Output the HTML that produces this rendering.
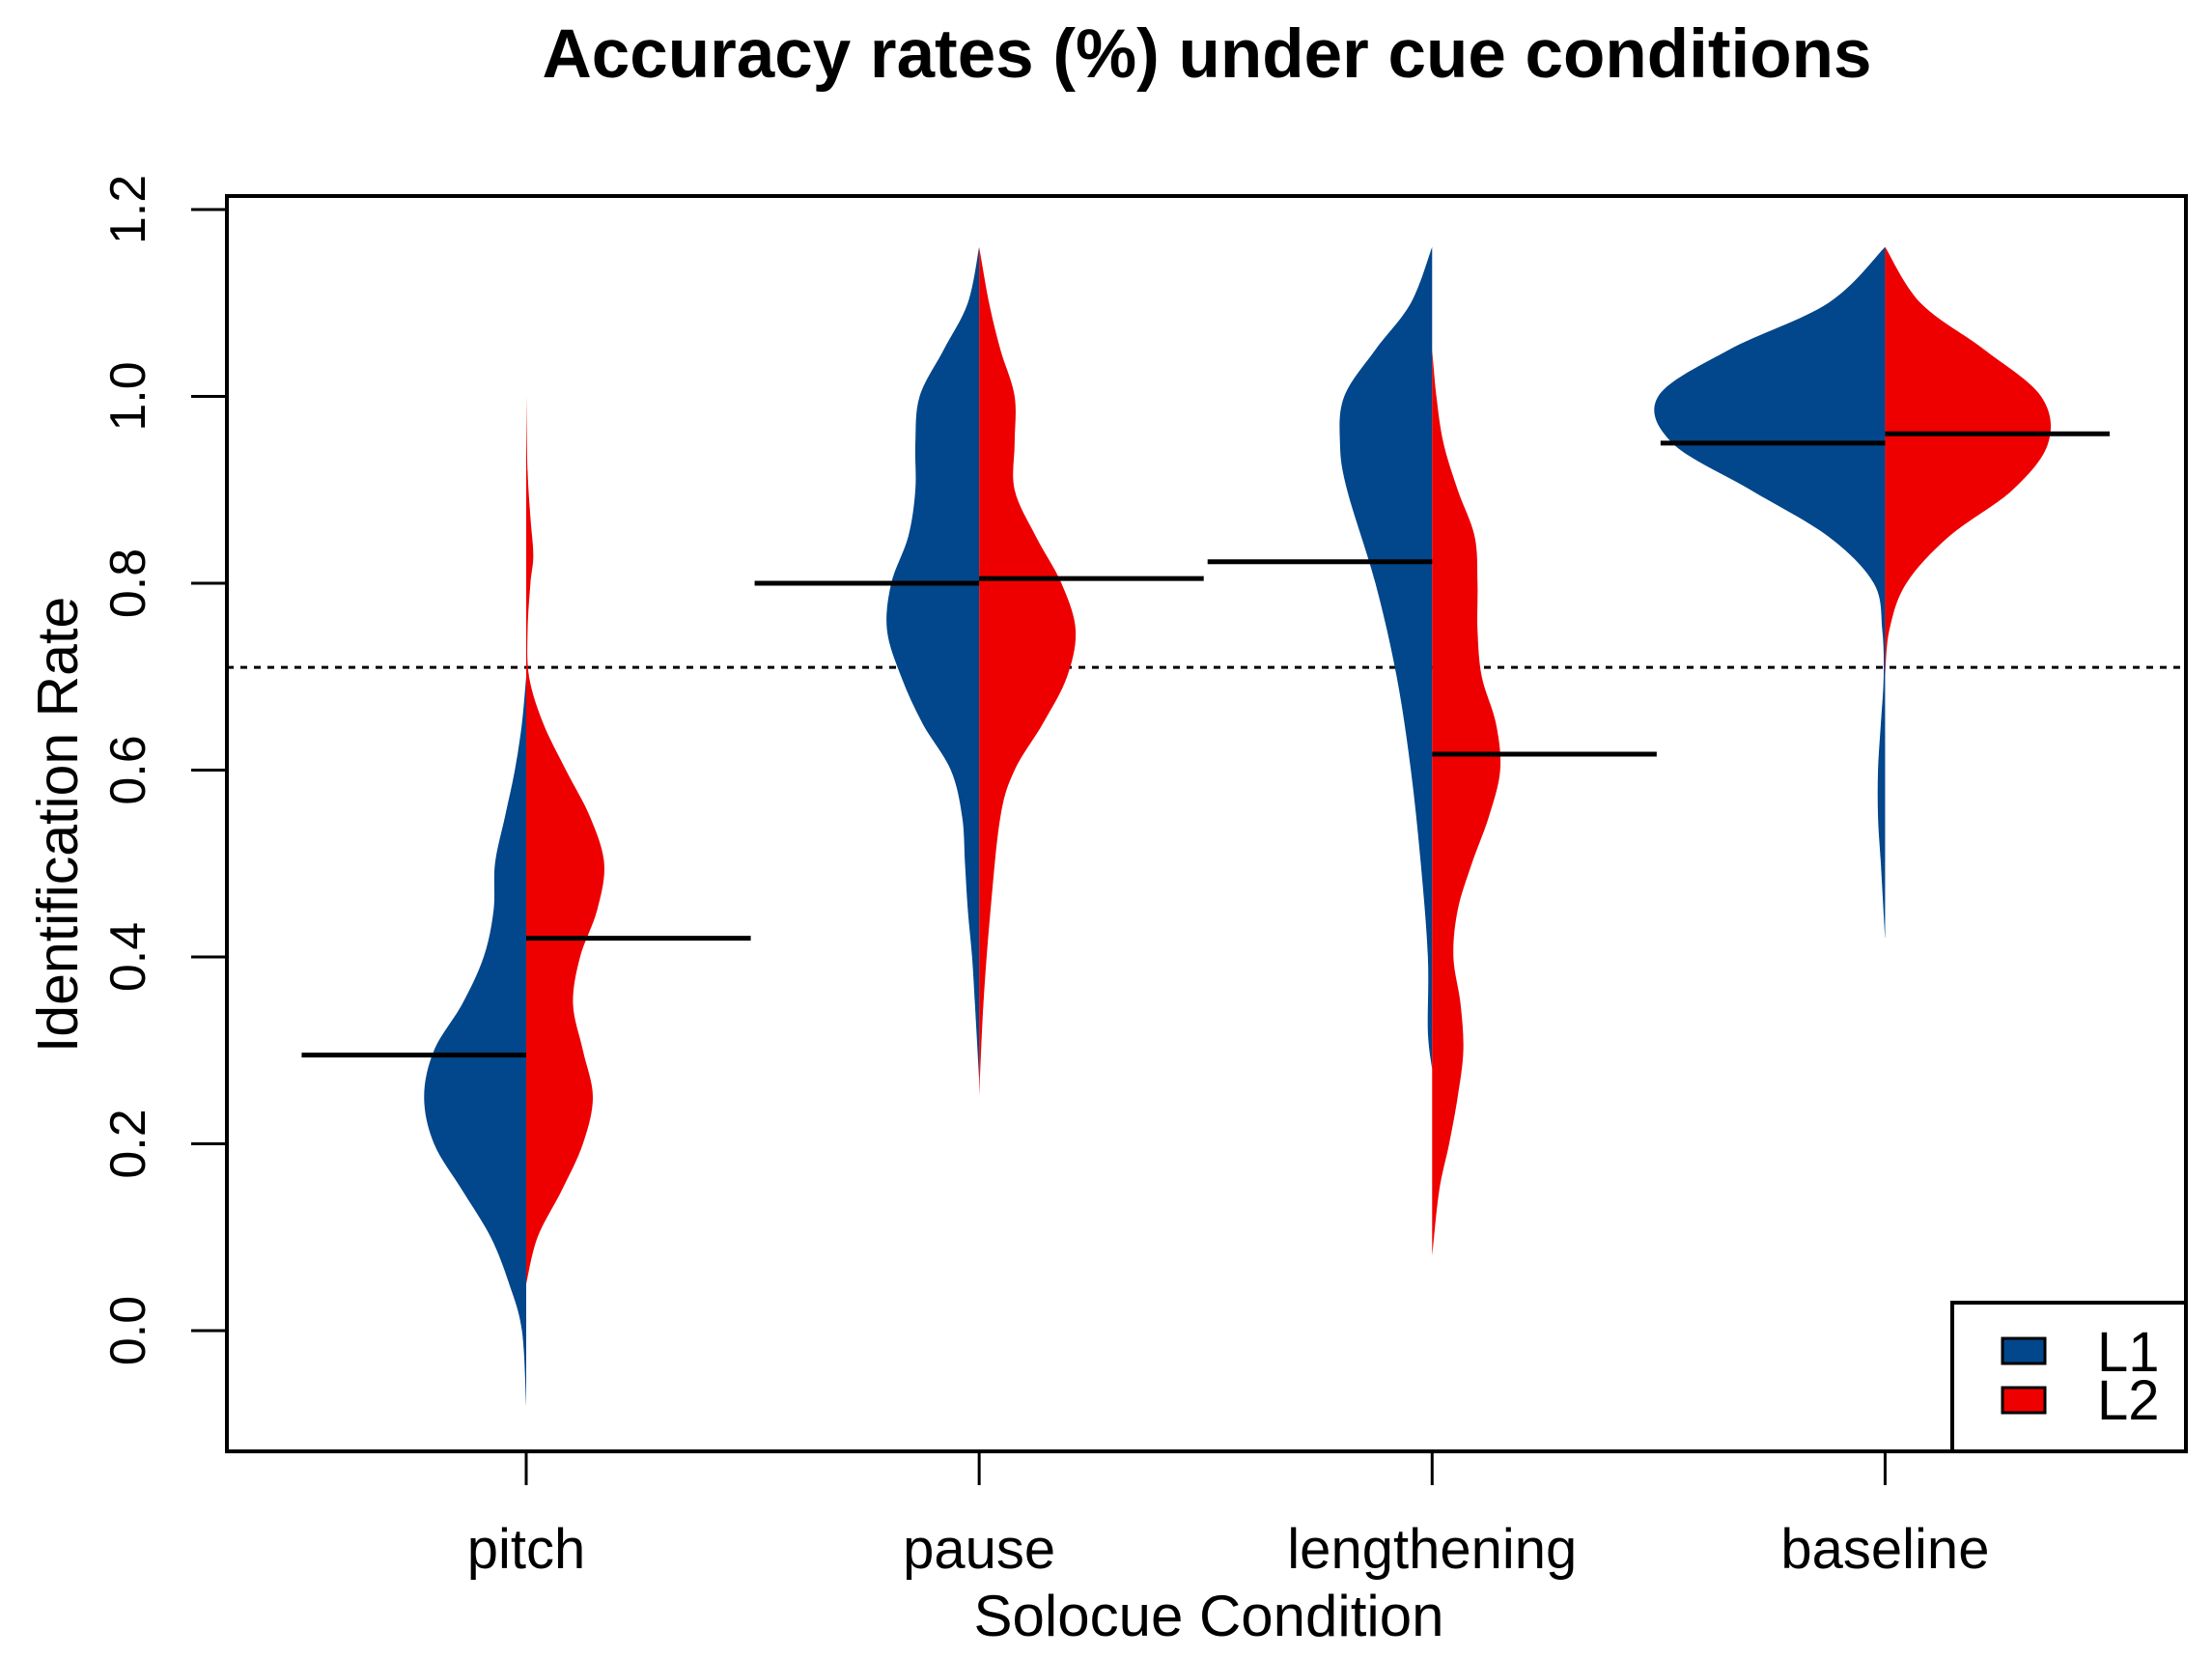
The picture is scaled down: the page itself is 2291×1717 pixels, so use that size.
<!DOCTYPE html>
<html><head><meta charset="utf-8"><style>
html,body{margin:0;padding:0;background:#fff;}
svg{display:block;font-family:"Liberation Sans",sans-serif;}
</style></head><body>
<svg id="chart" width="2291" height="1717" viewBox="0 0 2291 1717">
<text x="1250" y="80" text-anchor="middle" font-size="71" font-weight="bold">Accuracy rates (%) under cue conditions</text>
<g id="marks"></g>
<rect x="235" y="203" width="2029" height="1300" fill="none" stroke="#000" stroke-width="4"/>
<g>
<rect x="2022" y="1349" width="242" height="154" fill="#fff" stroke="#000" stroke-width="4"/>
<rect x="2074" y="1386" width="44" height="26" fill="#02468b" stroke="#000" stroke-width="3"/>
<rect x="2074" y="1437" width="44" height="26" fill="#ee0000" stroke="#000" stroke-width="3"/>
<text x="2172" y="1420" font-size="58">L1</text>
<text x="2172" y="1470" font-size="58">L2</text>
</g>
<text x="1252" y="1694" text-anchor="middle" font-size="60">Solocue Condition</text>
<text transform="translate(80,854) rotate(-90)" text-anchor="middle" font-size="59">Identification Rate</text>
</svg>
<script>
const categories = ["pitch","pause","lengthening","baseline"];
const yTicks = [0.0,0.2,0.4,0.6,0.8,1.0,1.2];
const yTickLabels = ["0.0","0.2","0.4","0.6","0.8","1.0","1.2"];
const chanceLevel = 0.71;
const meansL1 = [0.295,0.800,0.823,0.950];
const meansL2 = [0.420,0.805,0.617,0.960];
// density profiles: [y, density]
const densL1_pitch = [[-0.08,0],[0,3],[0.05,12],[0.1,25],[0.15,45],[0.2,65],[0.25,72],[0.3,65],[0.35,45],[0.4,30],[0.45,23],[0.5,22],[0.55,15],[0.6,8],[0.65,3],[0.7,0]];
const densL2_pitch = [[0.05,0],[0.1,8],[0.15,25],[0.2,40],[0.25,47],[0.3,40],[0.35,33],[0.4,38],[0.45,50],[0.5,55],[0.55,45],[0.6,28],[0.65,12],[0.7,2],[0.75,1],[0.8,3],[0.83,5],[0.87,3],[0.92,1],[1.0,0]];
const densL1_pause = [[0.27,0],[0.35,3],[0.4,5],[0.45,8],[0.5,10],[0.55,12],[0.6,20],[0.65,40],[0.7,55],[0.75,65],[0.8,62],[0.85,50],[0.9,45],[0.95,45],[1.0,42],[1.05,25],[1.1,8],[1.16,0]];
const densL2_pause = [[0.25,0],[0.35,3],[0.45,8],[0.55,15],[0.6,25],[0.65,45],[0.7,62],[0.75,68],[0.8,58],[0.85,40],[0.9,25],[0.95,25],[1.0,25],[1.05,15],[1.1,7],[1.16,0]];
const densL1_length = [[0.28,0],[0.32,3],[0.4,3],[0.5,8],[0.6,15],[0.7,25],[0.8,40],[0.9,60],[0.95,65],[1.0,62],[1.05,40],[1.1,15],[1.16,0]];
const densL2_length = [[0.08,0],[0.15,5],[0.2,12],[0.25,18],[0.3,22],[0.35,20],[0.4,15],[0.45,18],[0.5,28],[0.55,40],[0.6,48],[0.65,45],[0.7,35],[0.75,32],[0.8,32],[0.85,30],[0.9,18],[0.95,8],[1.0,3],[1.05,0]];
const densL1_base = [[0.42,0],[0.5,3],[0.55,5],[0.6,5],[0.65,3],[0.7,1],[0.75,2],[0.8,8],[0.85,40],[0.9,95],[0.95,150],[1.0,160],[1.05,110],[1.1,40],[1.16,0]];
const densL2_base = [[0.7,0],[0.75,3],[0.8,15],[0.85,45],[0.9,90],[0.95,115],[1.0,110],[1.05,70],[1.1,25],[1.16,0]];
const densL1 = [densL1_pitch,densL1_pause,densL1_length,densL1_base];
const densL2 = [densL2_pitch,densL2_pause,densL2_length,densL2_base];

const NS="http://www.w3.org/2000/svg";
const svg=document.getElementById('chart');
const marks=document.getElementById('marks');
const X0=545, DX=471.5*0.995, Y0=1378, YU=(1378-217)/1.2, DSCALE=1.4686;
const xs=i=>X0+i*DX;
const ys=v=>Y0-v*YU;
function mk(tag,attrs,parent){const e=document.createElementNS(NS,tag);for(const k in attrs)e.setAttribute(k,attrs[k]);(parent||marks).appendChild(e);return e;}
function smoothPath(pts){
  let d="M"+pts[0][0]+","+pts[0][1];
  for(let i=0;i<pts.length-1;i++){
    const p0=pts[Math.max(i-1,0)],p1=pts[i],p2=pts[i+1],p3=pts[Math.min(i+2,pts.length-1)];
    const c1=[p1[0]+(p2[0]-p0[0])/6,p1[1]+(p2[1]-p0[1])/6];
    const c2=[p2[0]-(p3[0]-p1[0])/6,p2[1]-(p3[1]-p1[1])/6];
    d+=` C${c1[0]},${c1[1]} ${c2[0]},${c2[1]} ${p2[0]},${p2[1]}`;
  }
  return d;
}
function halfViolin(i,dens,side,color,name){
  const cx=xs(i);
  const pts=dens.map(p=>[cx+side*p[1]*DSCALE,ys(p[0])]);
  const d=smoothPath(pts)+` L${cx},${ys(dens[dens.length-1][0])} L${cx},${ys(dens[0][0])} Z`;
  const el=mk('path',{d:d,fill:color});
  
  
}
const cl=mk('line',{x1:235,x2:2264,y1:ys(chanceLevel),y2:ys(chanceLevel),stroke:'#000','stroke-width':3,'stroke-dasharray':'7,7'});


categories.forEach((c,i)=>{
  halfViolin(i,densL1[i],-1,'#02468b','violin-l1-'+c);
  halfViolin(i,densL2[i],1,'#ee0000','violin-l2-'+c);
});
categories.forEach((c,i)=>{
  const m1=mk('line',{x1:xs(i)-DX/2+2,x2:xs(i),y1:ys(meansL1[i]),y2:ys(meansL1[i]),stroke:'#000','stroke-width':5});
  
  
  const m2=mk('line',{x1:xs(i),x2:xs(i)+DX/2-2,y1:ys(meansL2[i]),y2:ys(meansL2[i]),stroke:'#000','stroke-width':5});
  
  
  const t=mk('line',{x1:xs(i),x2:xs(i),y1:1503,y2:1538,stroke:'#000','stroke-width':3},svg);
  
  
  const lb=mk('text',{x:xs(i),y:1624,'text-anchor':'middle','font-size':58},svg);
  lb.textContent=c;
  
  
});
yTicks.forEach((v,i)=>{
  const t=mk('line',{x1:198,x2:235,y1:ys(v),y2:ys(v),stroke:'#000','stroke-width':3},svg);
  
  
  const lb=mk('text',{transform:`translate(150,${ys(v)}) rotate(-90)`,'text-anchor':'middle','font-size':52},svg);
  lb.textContent=yTickLabels[i];
  
  
});
</script>
</body></html>
